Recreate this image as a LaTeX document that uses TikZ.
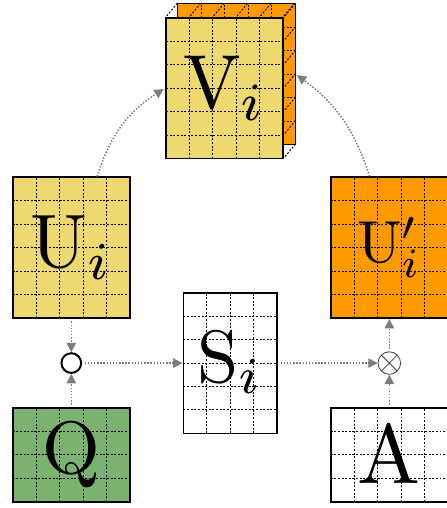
\documentclass[tikz,border=0pt]{standalone}
\usepackage{graphicx}
\usepackage{xcolor}
\usepackage{tikz}
\usetikzlibrary{arrows.meta, positioning, calc}

\definecolor{cellyellow}{HTML}{EDD96F}
\definecolor{cellorange}{HTML}{FF9900}
\definecolor{cellgreen}{HTML}{7BB26F}
\definecolor{flowgray}{HTML}{75807C}

\newcommand{\bigsym}[2][4.5]{\scalebox{#1}{$#2$}}

\begin{document}
\begin{tikzpicture}[
    gridline/.style={black, line width=0.6pt, dash pattern=on 1.2pt off 1pt},
    cellgrid/.style={path picture={
      \foreach \k in {1,...,5}
        \draw[gridline] ([xshift=\k*0.5cm]path picture bounding box.south west) -- ([xshift=\k*0.5cm]path picture bounding box.north west);
      \foreach \k in {1,...,6}
        \draw[gridline] ([yshift=\k*0.5cm]path picture bounding box.south west) -- ([yshift=\k*0.5cm]path picture bounding box.south east);}},
    matbox/.style={rectangle, draw=black, line width=1.1pt, inner sep=0pt, cellgrid},
    big/.style={matbox, minimum width=2.5cm, minimum height=3cm},
    wide/.style={matbox, minimum width=2.5cm, minimum height=2cm},
    tall/.style={matbox, minimum width=2cm, minimum height=3cm},
    op/.style={circle, draw=black, inner sep=0pt},
    flow/.style={densely dotted, flowgray, line width=0.9pt, -{Triangle[length=2mm, width=2mm]}}
]
\useasboundingbox (0,0) rectangle (9.51,10.83);
\node[big, fill=cellorange, line width=0.6pt] (Vback) at (5.04,9.25) {};
\foreach \k in {0,...,5}
  \draw[gridline] ([xshift=\k*0.5cm]Vback.north west) -- ++(-0.25,-0.3);
\foreach \j in {0,...,6}
  \draw[gridline] ([yshift=-\j*0.5cm]Vback.north east) -- ++(-0.25,-0.3);
\node[big, fill=cellyellow] (Vi) at (4.79,8.95) {\bigsym[4.65]{\mathrm{V}_i}};
\node[big, fill=cellyellow] (Ui) at (1.52,5.55) {\bigsym[4.6]{\mathrm{U}_i}};
\node[big, fill=cellorange] (Upi) at (8.30,5.55) {\bigsym[3.6]{\mathrm{U}'_i}};
\node[tall, fill=white] (Si) at (4.91,3.09) {\bigsym{\mathrm{S}_i}};
\node[wide, fill=cellgreen] (Q) at (1.52,1.13) {\bigsym{\mathrm{Q}}};
\node[wide, fill=white] (A) at (8.30,1.13) {\bigsym[5.1]{\mathrm{A}}};
\node[op, line width=1.2pt, minimum size=0.42cm] (had) at (1.52,3.09) {};
\node[op, draw=black!75, line width=0.5pt, minimum size=0.48cm,
  path picture={\draw[black!75, line width=0.5pt] (path picture bounding box.north west) -- (path picture bounding box.south east)
    (path picture bounding box.south west) -- (path picture bounding box.north east);}] (ox) at (8.30,3.09) {};

\draw[flow, shorten <=1.5pt] (Ui) -- (had);
\draw[flow, shorten <=1.5pt] (Q) -- (had);
\draw[flow, shorten <=1.5pt] (had) -- (Si);
\draw[flow, shorten <=1.5pt] (Si) -- (ox);
\draw[flow, shorten <=1.5pt] (A) -- (ox);
\draw[flow, shorten <=1.5pt] (ox) -- (Upi);
\draw[flow, shorten >=1pt] ([xshift=0.55cm]Ui.north) to[bend left=20] (Vi.west);
\draw[flow, shorten >=1pt] ([xshift=-0.42cm]Upi.north) to[bend right=18] (Vback.east);
\end{tikzpicture}
\end{document}
